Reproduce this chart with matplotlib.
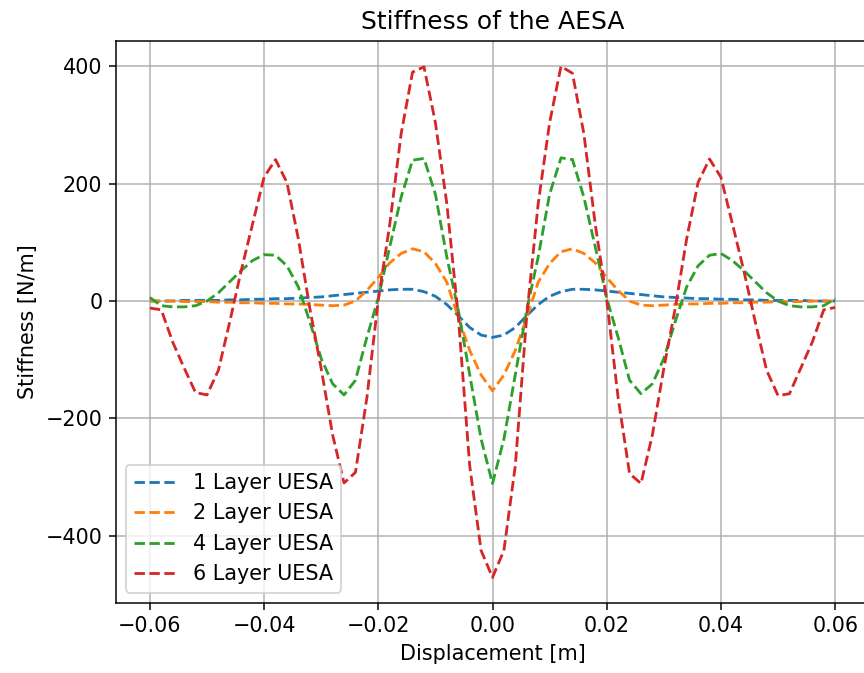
import numpy as np
import matplotlib
matplotlib.use("Agg")
import matplotlib.pyplot as plt

# displacement grid, 61 samples from -0.06 to 0.06 m
displacement = np.linspace(-0.06, 0.06, 61)

# stiffness [N/m]
layer1 = [0, 0, 0, 1, 1, 1, 1, 2, 2, 3, 3, 4, 4, 5, 6, 7, 9, 11, 13, 15,
          17, 19, 20, 20, 16, 8, -6, -25, -45, -58, -62,
          -58, -45, -25, -6, 8, 16, 20, 20, 19, 17, 15, 13, 11, 9, 7,
          6, 5, 4, 4, 3, 3, 2, 2, 1, 1, 1, 1, 0, 0, 0]
layer2 = [0, 0, 0, -1, -1, -1, -2, -2, -3, -3, -4, -4, -5, -5, -6, -7, -8, -7, 0, 18,
          40, 65, 81, 89, 84, 64, 32, -28, -84, -126, -153,
          -126, -84, -28, 32, 64, 84, 89, 81, 65, 40, 18, 0, -7, -8, -7,
          -6, -5, -5, -4, -4, -3, -3, -2, -2, -1, -1, -1, 0, 0, 0]
layer4 = [6, -8, -10, -10, -8, 0, 14, 33, 52, 69, 79, 78, 60, 24, -35, -98, -141, -160, -135, -62,
          5, 92, 177, 240, 243, 182, 75, -15, -125, -235, -311,
          -235, -125, -15, 75, 182, 244, 241, 177, 92, 5, -62, -135, -158, -141, -98,
          -35, 24, 60, 78, 81, 69, 52, 33, 14, 0, -8, -10, -10, -8, 4]
layer6 = [-12, -15, -70, -114, -156, -160, -118, -35, 52, 132, 211, 241, 202, 106, -12, -115, -228, -310, -292, -165,
          2, 130, 285, 390, 399, 304, 166, -25, -280, -425, -471,
          -425, -280, -25, 166, 304, 400, 388, 285, 130, 2, -165, -294, -311, -228, -115,
          -12, 106, 202, 242, 211, 132, 52, -35, -118, -161, -158, -114, -70, -15, -11]

labels = ["1 Layer UESA", "2 Layer UESA", "4 Layer UESA", "6 Layer UESA"]

plt.rcParams["font.size"] = 11.1

fig = plt.figure(figsize=(864 / 135, 673 / 135), dpi=135)
ax = fig.add_axes([115.6 / 864, 70 / 673, (869.4 - 115.6) / 864, (603 - 40.7) / 673])

for series, label in zip([layer1, layer2, layer4, layer6], labels):
    ax.plot(displacement, series, "--", label=label)

ax.set_title("Stiffness of the AESA")
ax.set_xlabel("Displacement [m]")
ax.set_ylabel("Stiffness [N/m]")
ax.grid(True)
ax.legend(loc="lower left")

fig.savefig("out.png", dpi=135)
